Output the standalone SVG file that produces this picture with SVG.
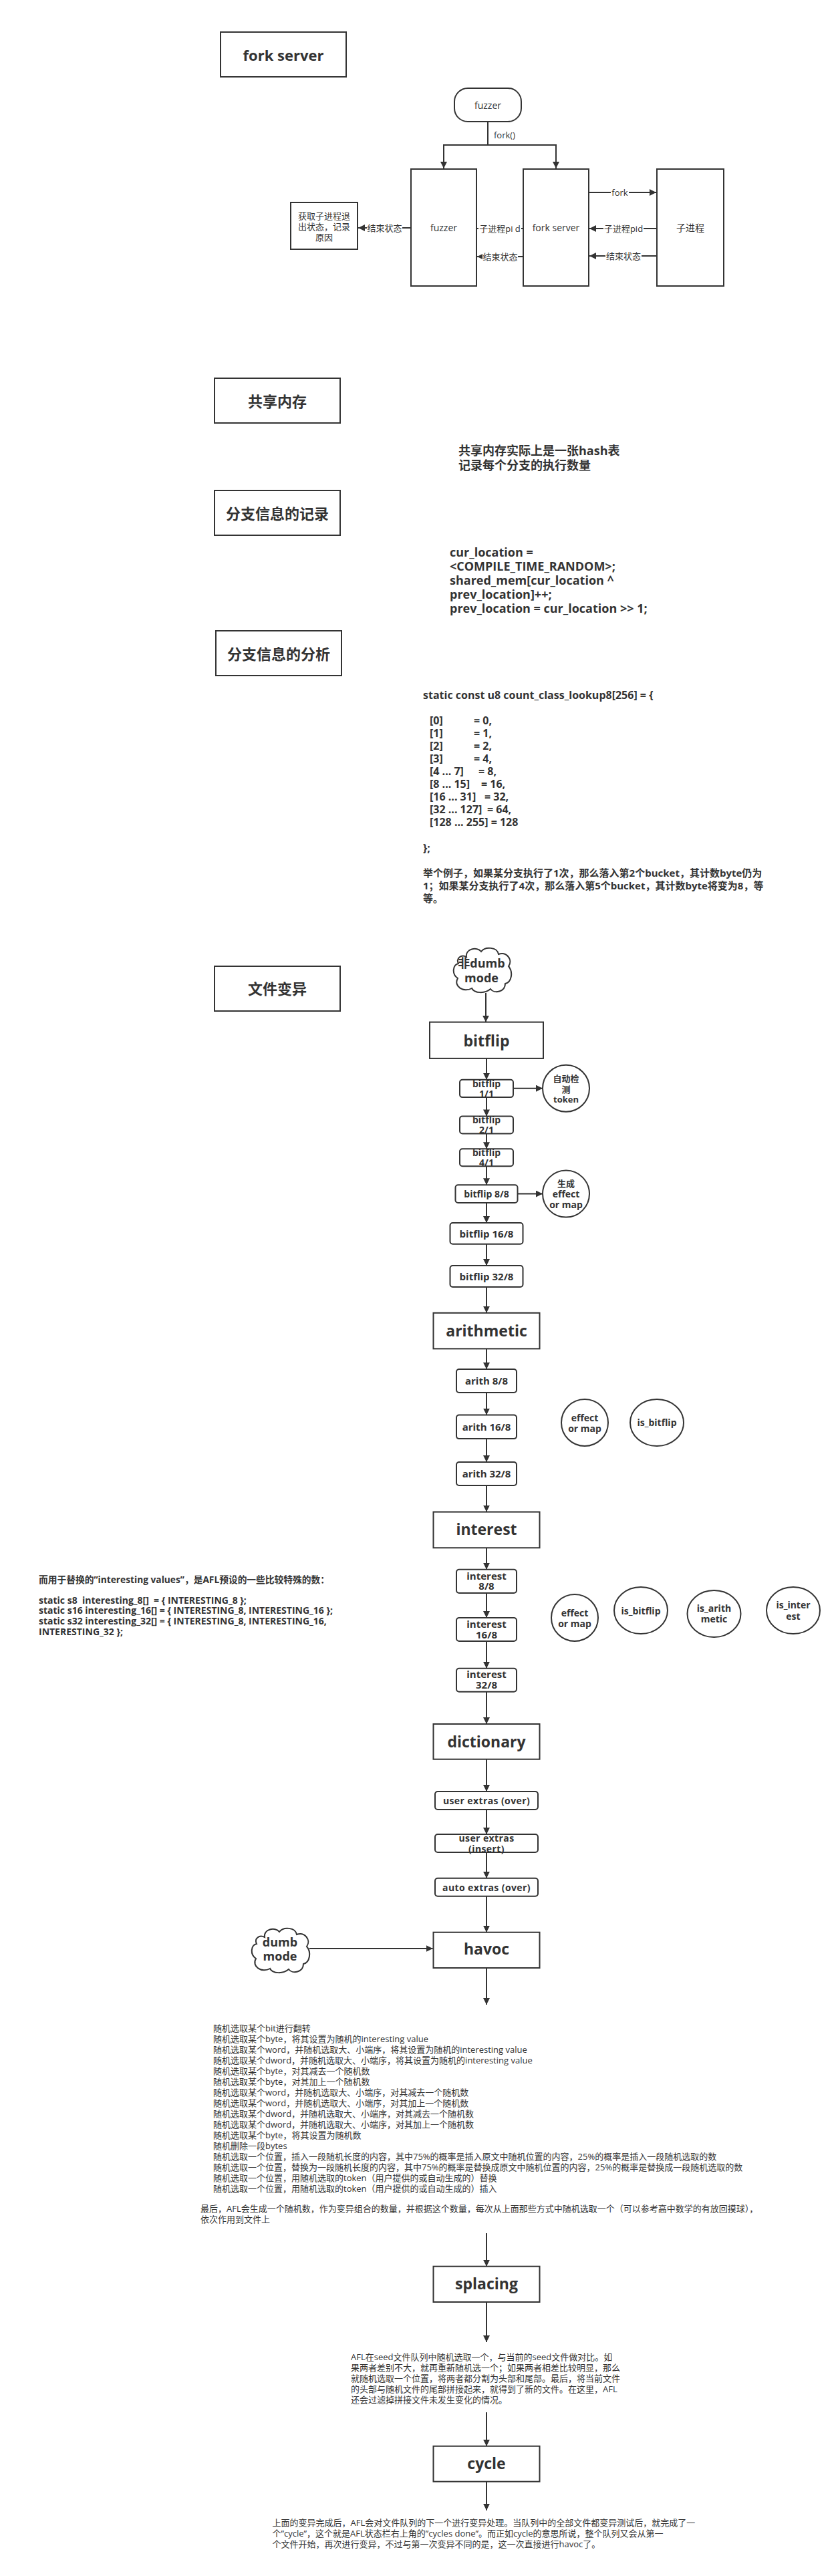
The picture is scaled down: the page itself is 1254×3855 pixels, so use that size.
<svg xmlns="http://www.w3.org/2000/svg" width="1254" height="3855" viewBox="0 0 1254 3855">
<defs>
<style>
text{font-family:'Open Sans','Noto Sans CJK SC',sans-serif;fill:#333}
.bd{font-weight:700}
.m{text-anchor:middle}
.pre{white-space:pre}
.box{fill:#fff;stroke:#333;stroke-width:2}
.conn{fill:none;stroke:#333;stroke-width:2}
.lbg{fill:#fff}
.h22{font-size:22px}
.h23{font-size:23px}
.s18{font-size:18px}
.s16{font-size:16px}
.s15{font-size:15px}
.s14{font-size:14px}
.s13{font-size:13px}
.ls{letter-spacing:0.4px}
</style>
<marker id="ah" markerUnits="userSpaceOnUse" markerWidth="11" markerHeight="10" refX="10" refY="5" orient="auto"><path d="M0,0 L10,5 L0,10 z" fill="#333"/></marker>
<path id="cloud" d="M22,16 C20,4 38,0 44,8 C50,0 68,1 70,12 C82,8 92,20 85,30 C92,38 90,54 80,56 C80,68 64,72 58,64 C50,71 34,71 30,63 C18,70 2,60 9,48 C0,42 1,28 10,26 C6,18 14,12 22,16 Z" fill="#fff" stroke="#333" stroke-width="2"/>
</defs>
<rect width="1254" height="3855" fill="#fff"/>

<!-- ===== fork server section ===== -->
<g id="title-fork-server"><rect class="box" x="330" y="48" width="188" height="67"/><text class="bd h22 m" x="424" y="90.5">fork server</text></g>
<g id="fs-fuzzer-top"><rect class="box" x="680" y="132" width="100" height="50" rx="20"/><text class="s14 m" x="730" y="162.5">fuzzer</text></g>
<g id="fs-fuzzer"><rect class="box" x="615" y="253" width="98" height="175"/><text class="s14 m" x="664" y="345.5">fuzzer</text></g>
<g id="fs-forkserver"><rect class="box" x="783" y="253" width="98" height="175"/><text class="s14 m" x="832" y="345.5">fork server</text></g>
<g id="fs-child"><rect class="box" x="983" y="253" width="100" height="175"/><text class="s14 m" x="1033" y="345.5">子进程</text></g>
<g id="fs-exit"><rect class="box" x="435" y="303" width="100" height="70"/>
<text class="s13 m" x="485" y="328">获取子进程退</text><text class="s13 m" x="485" y="344">出状态，记录</text><text class="s13 m" x="485" y="360">原因</text></g>

<!-- ===== shared memory ===== -->
<g id="title-shm"><rect class="box" x="321" y="566" width="188" height="67"/><text class="bd h22 m" x="415" y="608.5">共享内存</text></g>
<g id="shm-note"><text class="bd s18" x="686" y="681">共享内存实际上是一张hash表</text><text class="bd s18" x="686" y="703">记录每个分支的执行数量</text></g>

<g id="title-record"><rect class="box" x="321" y="734" width="188" height="67"/><text class="bd h22 m" x="415" y="777">分支信息的记录</text></g>
<g id="record-code" class="bd s18">
<text x="673" y="833">cur_location =</text>
<text x="673" y="854">&lt;COMPILE_TIME_RANDOM&gt;;</text>
<text x="673" y="875">shared_mem[cur_location ^</text>
<text x="673" y="896">prev_location]++;</text>
<text x="673" y="917">prev_location = cur_location &gt;&gt; 1;</text>
</g>

<g id="title-analysis"><rect class="box" x="323" y="944" width="188" height="67"/><text class="bd h22 m" x="417" y="987">分支信息的分析</text></g>
<g id="analysis-code">
<text class="bd s16" x="633" y="1046">static const u8 count_class_lookup8[256] = {</text>
<text class="bd s16" x="643" y="1084">[0]</text><text class="bd s16" x="709" y="1084">= 0,</text>
<text class="bd s16" x="643" y="1103">[1]</text><text class="bd s16" x="709" y="1103">= 1,</text>
<text class="bd s16" x="643" y="1122">[2]</text><text class="bd s16" x="709" y="1122">= 2,</text>
<text class="bd s16" x="643" y="1141">[3]</text><text class="bd s16" x="709" y="1141">= 4,</text>
<text class="bd s16" x="643" y="1160">[4 ... 7]</text><text class="bd s16" x="716" y="1160">= 8,</text>
<text class="bd s16" x="643" y="1179">[8 ... 15]</text><text class="bd s16" x="720" y="1179">= 16,</text>
<text class="bd s16" x="643" y="1198">[16 ... 31]</text><text class="bd s16" x="725" y="1198">= 32,</text>
<text class="bd s16" x="643" y="1217">[32 ... 127]</text><text class="bd s16" x="729" y="1217">= 64,</text>
<text class="bd s16" x="643" y="1236">[128 ... 255] = 128</text>
<text class="bd s16" x="633" y="1275">};</text>
<text class="bd s15" x="633" y="1312">举个例子，如果某分支执行了1次，那么落入第2个bucket，其计数byte仍为</text>
<text class="bd s15" x="633" y="1331">1；如果某分支执行了4次，那么落入第5个bucket，其计数byte将变为8，等</text>
<text class="bd s15" x="633" y="1350">等。</text>
</g>

<!-- ===== mutation ===== -->
<g id="title-mutation"><rect class="box" x="321" y="1446" width="188" height="67"/><text class="bd h22 m" x="415" y="1488">文件变异</text></g>

<g id="cloud-nondumb"><use href="#cloud" transform="translate(676,1416)"/><text class="bd s18 m" x="720.5" y="1448">非dumb</text><text class="bd s18 m" x="720.5" y="1470">mode</text></g>

<g id="bitflip"><rect class="box" x="643" y="1529.6" width="170" height="54.3"/><text class="bd h23 m" x="728" y="1566">bitflip</text></g>
<g id="bitflip-1-1"><rect class="box" x="688" y="1615.7" width="80" height="26.4" rx="4"/><text class="bd s14 m" x="728" y="1627">bitflip</text><text class="bd s14 m" x="728" y="1641.5">1/1</text></g>
<g id="token"><ellipse class="box" cx="847" cy="1628.8" rx="35" ry="35"/><text class="bd s13 m" x="847" y="1619">自动检</text><text class="bd s13 m" x="847" y="1635">测</text><text class="bd s13 m" x="847" y="1650">token</text></g>
<g id="bitflip-2-1"><rect class="box" x="688" y="1670.4" width="80" height="26" rx="4"/><text class="bd s14 m" x="728" y="1680.7">bitflip</text><text class="bd s14 m" x="728" y="1696">2/1</text></g>
<g id="bitflip-4-1"><rect class="box" x="688" y="1719.3" width="80" height="26" rx="4"/><text class="bd s14 m" x="728" y="1729.6">bitflip</text><text class="bd s14 m" x="728" y="1745">4/1</text></g>
<g id="bitflip-8-8"><rect class="box" x="681.5" y="1773.2" width="93" height="26.8" rx="4"/><text class="bd s14 m" x="728" y="1791.5">bitflip 8/8</text></g>
<g id="effmap1"><ellipse class="box" cx="847" cy="1786.6" rx="35" ry="35"/><text class="bd s13 m" x="847" y="1776">生成</text><text class="bd s14 m" x="847" y="1791.5">effect</text><text class="bd s14 m" x="847" y="1807.5">or map</text></g>
<g id="bitflip-16-8"><rect class="box" x="673.5" y="1830" width="109" height="31.8" rx="4"/><text class="bd s15 m" x="728" y="1851.5">bitflip 16/8</text></g>
<g id="bitflip-32-8"><rect class="box" x="673.5" y="1894" width="109" height="32" rx="4"/><text class="bd s15 m" x="728" y="1915.5">bitflip 32/8</text></g>

<g id="arithmetic"><rect class="box" x="648.5" y="1964.8" width="159" height="53.6"/><text class="bd h23 m" x="728" y="1999.5">arithmetic</text></g>
<g id="arith-8-8"><rect class="box" x="683" y="2049" width="90" height="35" rx="4"/><text class="bd s15 m" x="728" y="2072">arith 8/8</text></g>
<g id="arith-16-8"><rect class="box" x="683" y="2117.6" width="90" height="35.5" rx="4"/><text class="bd s15 m" x="728" y="2140.5">arith 16/8</text></g>
<g id="arith-32-8"><rect class="box" x="683" y="2188" width="90" height="35" rx="4"/><text class="bd s15 m" x="728" y="2211">arith 32/8</text></g>
<g id="effmap2"><ellipse class="box" cx="875" cy="2129" rx="35" ry="35"/><text class="bd s14 m" x="875" y="2126.5">effect</text><text class="bd s14 m" x="875" y="2142.5">or map</text></g>
<g id="isbitflip1"><ellipse class="box" cx="983" cy="2129" rx="40" ry="35"/><text class="bd s14 m" x="983" y="2134">is_bitflip</text></g>

<g id="interest"><rect class="box" x="648.5" y="2262.6" width="159" height="53.7"/><text class="bd h23 m" x="728" y="2297">interest</text></g>
<g id="interest-8-8"><rect class="box" x="683" y="2348.8" width="90" height="35.2" rx="4"/><text class="bd s15 m" x="728" y="2363.5">interest</text><text class="bd s15 m" x="728" y="2378.5">8/8</text></g>
<g id="interest-16-8"><rect class="box" x="683" y="2421" width="90" height="35" rx="4"/><text class="bd s15 m" x="728" y="2436">interest</text><text class="bd s15 m" x="728" y="2451.5">16/8</text></g>
<g id="interest-32-8"><rect class="box" x="683" y="2496.8" width="90" height="35" rx="4"/><text class="bd s15 m" x="728" y="2511">interest</text><text class="bd s15 m" x="728" y="2527">32/8</text></g>
<g id="effmap3"><ellipse class="box" cx="860" cy="2421" rx="35" ry="35"/><text class="bd s14 m" x="860" y="2418.5">effect</text><text class="bd s14 m" x="860" y="2434.5">or map</text></g>
<g id="isbitflip2"><ellipse class="box" cx="959" cy="2410" rx="40" ry="35"/><text class="bd s14 m" x="959" y="2415.5">is_bitflip</text></g>
<g id="isarith"><ellipse class="box" cx="1068.5" cy="2415" rx="40" ry="35"/><text class="bd s14 m" x="1068.5" y="2412">is_arith</text><text class="bd s14 m" x="1068.5" y="2428">metic</text></g>
<g id="isinterest"><ellipse class="box" cx="1187" cy="2410" rx="40" ry="35"/><text class="bd s14 m" x="1187" y="2407">is_inter</text><text class="bd s14 m" x="1187" y="2423.5">est</text></g>

<g id="interesting-values">
<text class="bd s14" x="58" y="2368.5" textLength="435" lengthAdjust="spacingAndGlyphs">而用于替换的”interesting values”，是AFL预设的一些比较特殊的数：</text>
<text class="bd s14 pre" x="58" y="2399.5">static s8  interesting_8[]  = { INTERESTING_8 };</text>
<text class="bd s14 pre" x="58" y="2415">static s16 interesting_16[] = { INTERESTING_8, INTERESTING_16 };</text>
<text class="bd s14 pre" x="58" y="2431">static s32 interesting_32[] = { INTERESTING_8, INTERESTING_16,</text>
<text class="bd s14 pre" x="58" y="2447">INTERESTING_32 };</text>
</g>

<g id="dictionary"><rect class="box" x="648.5" y="2580" width="159" height="52.7"/><text class="bd h23 m" x="728" y="2614.7">dictionary</text></g>
<g id="user-over"><rect class="box" x="651" y="2681" width="154" height="27" rx="4"/><text class="bd s14 m ls" x="728" y="2699.5">user extras (over)</text></g>
<g id="user-insert"><rect class="box" x="651" y="2745" width="154" height="27" rx="4"/><text class="bd s14 m ls" x="728" y="2755.5">user extras</text><text class="bd s14 m ls" x="728" y="2771.5">(insert)</text></g>
<g id="auto-over"><rect class="box" x="651" y="2810.7" width="154" height="27" rx="4"/><text class="bd s14 m ls" x="728" y="2829.5">auto extras (over)</text></g>
<g id="havoc"><rect class="box" x="648.5" y="2891.7" width="159" height="53.3"/><text class="bd h23 m" x="728" y="2925">havoc</text></g>
<g id="cloud-dumb"><use href="#cloud" transform="translate(374,2883)"/><text class="bd s18 m" x="419" y="2913">dumb</text><text class="bd s18 m" x="419" y="2934">mode</text></g>

<g id="havoc-list" class="s13">
<text x="319" y="3040.2">随机选取某个bit进行翻转</text>
<text x="319" y="3056.2">随机选取某个byte，将其设置为随机的interesting value</text>
<text x="319" y="3072.1">随机选取某个word，并随机选取大、小端序，将其设置为随机的interesting value</text>
<text x="319" y="3088.1">随机选取某个dword，并随机选取大、小端序，将其设置为随机的interesting value</text>
<text x="319" y="3104">随机选取某个byte，对其减去一个随机数</text>
<text x="319" y="3120">随机选取某个byte，对其加上一个随机数</text>
<text x="319" y="3136">随机选取某个word，并随机选取大、小端序，对其减去一个随机数</text>
<text x="319" y="3152">随机选取某个word，并随机选取大、小端序，对其加上一个随机数</text>
<text x="319" y="3167.8">随机选取某个dword，并随机选取大、小端序，对其减去一个随机数</text>
<text x="319" y="3183.8">随机选取某个dword，并随机选取大、小端序，对其加上一个随机数</text>
<text x="319" y="3199.7">随机选取某个byte，将其设置为随机数</text>
<text x="319" y="3215.7">随机删除一段bytes</text>
<text x="319" y="3231.6">随机选取一个位置，插入一段随机长度的内容，其中75%的概率是插入原文中随机位置的内容，25%的概率是插入一段随机选取的数</text>
<text x="319" y="3247.6">随机选取一个位置，替换为一段随机长度的内容，其中75%的概率是替换成原文中随机位置的内容，25%的概率是替换成一段随机选取的数</text>
<text x="319" y="3263.5">随机选取一个位置，用随机选取的token（用户提供的或自动生成的）替换</text>
<text x="319" y="3279.5">随机选取一个位置，用随机选取的token（用户提供的或自动生成的）插入</text>
<text x="300" y="3310">最后，AFL会生成一个随机数，作为变异组合的数量，并根据这个数量，每次从上面那些方式中随机选取一个（可以参考高中数学的有放回摸球），</text>
<text x="300" y="3326">依次作用到文件上</text>
</g>

<g id="splacing"><rect class="box" x="648.5" y="3391.7" width="159" height="53.3"/><text class="bd h23 m" x="728" y="3426">splacing</text></g>
<g id="splacing-text" class="s13">
<text x="525" y="3531.5">AFL在seed文件队列中随机选取一个，与当前的seed文件做对比。如</text>
<text x="525" y="3547.5">果两者差别不大，就再重新随机选一个；如果两者相差比较明显，那么</text>
<text x="525" y="3563.5">就随机选取一个位置，将两者都分割为头部和尾部。最后，将当前文件</text>
<text x="525" y="3579.5">的头部与随机文件的尾部拼接起来，就得到了新的文件。在这里，AFL</text>
<text x="525" y="3595.5">还会过滤掉拼接文件未发生变化的情况。</text>
</g>

<g id="cycle"><rect class="box" x="648.5" y="3660.7" width="159" height="53"/><text class="bd h23 m" x="728" y="3694.5">cycle</text></g>
<g id="cycle-text" class="s13">
<text x="407.5" y="3779.5">上面的变异完成后，AFL会对文件队列的下一个进行变异处理。当队列中的全部文件都变异测试后，就完成了一</text>
<text x="407.5" y="3795.5">个”cycle”，这个就是AFL状态栏右上角的”cycles done”。而正如cycle的意思所说，整个队列又会从第一</text>
<text x="407.5" y="3811.5">个文件开始，再次进行变异，不过与第一次变异不同的是，这一次直接进行havoc了。</text>
</g>

<!-- ===== connectors ===== -->
<g id="connectors">
<path class="conn" d="M730 182 V217 H664 V252" marker-end="url(#ah)"/>
<path class="conn" d="M730 217 H832 V252" marker-end="url(#ah)"/>
<rect class="lbg" x="737" y="193" width="36" height="18"/><text class="s13" x="739" y="207">fork()</text>
<path class="conn" d="M882 288 H982" marker-end="url(#ah)"/>
<rect class="lbg" x="914" y="279" width="27" height="18"/><text class="s13 m" x="927.5" y="292.5">fork</text>
<path class="conn" d="M983 342 H882" marker-end="url(#ah)"/>
<rect class="lbg" x="903" y="333" width="60" height="18"/><text class="s13 m" x="933" y="346.5">子进程pid</text>
<path class="conn" d="M983 383 H882" marker-end="url(#ah)"/>
<rect class="lbg" x="906" y="374" width="54" height="18"/><text class="s13 m" x="933" y="387.5">结束状态</text>
<path class="conn" d="M783 342 H714" marker-end="url(#ah)"/>
<rect class="lbg" x="716" y="333" width="64" height="18"/><text class="s13 m" x="748" y="346.5">子进程pi d</text>
<path class="conn" d="M783 384 H714" marker-end="url(#ah)"/>
<rect class="lbg" x="722" y="375" width="53" height="18"/><text class="s13 m" x="748.5" y="388.5">结束状态</text>
<path class="conn" d="M615 341 H536" marker-end="url(#ah)"/>
<rect class="lbg" x="549" y="332" width="53" height="18"/><text class="s13 m" x="575.5" y="345.5">结束状态</text>

<path class="conn" d="M727 1486 V1529.6" marker-end="url(#ah)"/>
<path class="conn" d="M728 1584 V1615.7" marker-end="url(#ah)"/>
<path class="conn" d="M728 1642 V1670.4" marker-end="url(#ah)"/>
<path class="conn" d="M728 1696.4 V1719.3" marker-end="url(#ah)"/>
<path class="conn" d="M728 1745.4 V1773.2" marker-end="url(#ah)"/>
<path class="conn" d="M728 1800 V1830" marker-end="url(#ah)"/>
<path class="conn" d="M728 1861.8 V1894" marker-end="url(#ah)"/>
<path class="conn" d="M728 1926 V1964.8" marker-end="url(#ah)"/>
<path class="conn" d="M768 1628.7 H812" marker-end="url(#ah)"/>
<path class="conn" d="M774.5 1786.6 H812" marker-end="url(#ah)"/>
<path class="conn" d="M728 2018.4 V2049" marker-end="url(#ah)"/>
<path class="conn" d="M728 2084 V2117.6" marker-end="url(#ah)"/>
<path class="conn" d="M728 2153.1 V2188" marker-end="url(#ah)"/>
<path class="conn" d="M728 2223 V2262.6" marker-end="url(#ah)"/>
<path class="conn" d="M728 2316.3 V2348.8" marker-end="url(#ah)"/>
<path class="conn" d="M728 2384 V2421" marker-end="url(#ah)"/>
<path class="conn" d="M728 2456 V2496.8" marker-end="url(#ah)"/>
<path class="conn" d="M728 2531.8 V2580" marker-end="url(#ah)"/>
<path class="conn" d="M728 2632.7 V2681" marker-end="url(#ah)"/>
<path class="conn" d="M728 2708 V2745" marker-end="url(#ah)"/>
<path class="conn" d="M728 2772 V2810.7" marker-end="url(#ah)"/>
<path class="conn" d="M728 2837.7 V2891.7" marker-end="url(#ah)"/>
<path class="conn" d="M463 2916 H647.7" marker-end="url(#ah)"/>
<path class="conn" d="M728 2945 V3000" marker-end="url(#ah)"/>
<path class="conn" d="M728 3342 V3391.7" marker-end="url(#ah)"/>
<path class="conn" d="M728 3445 V3505" marker-end="url(#ah)"/>
<path class="conn" d="M728 3610 V3660.7" marker-end="url(#ah)"/>
<path class="conn" d="M728 3713.7 V3756.7" marker-end="url(#ah)"/>
</g>
</svg>
